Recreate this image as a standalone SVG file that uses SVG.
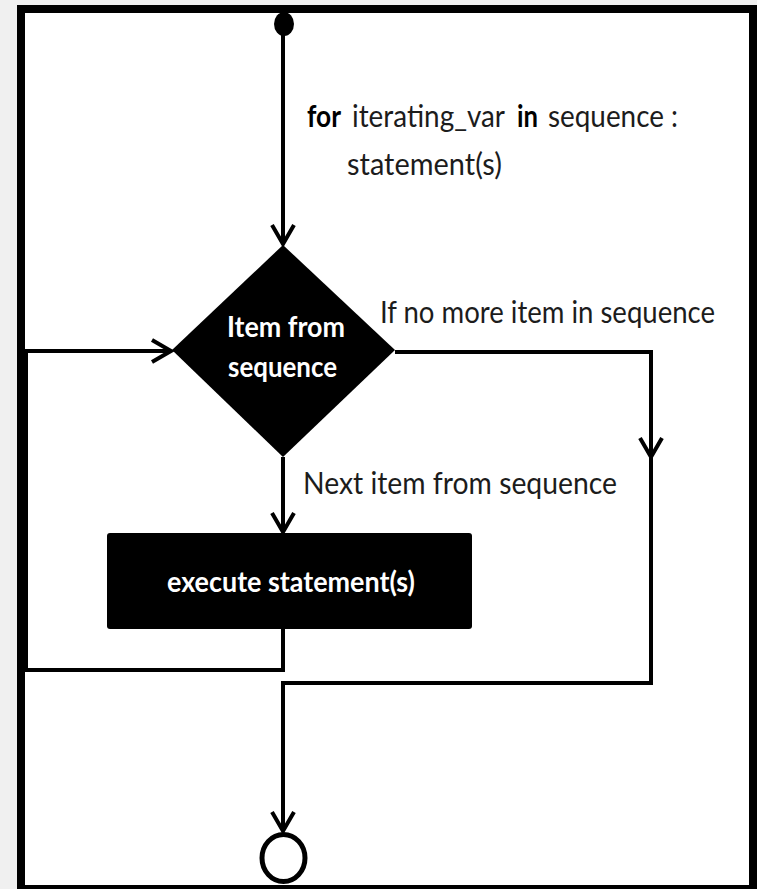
<svg xmlns="http://www.w3.org/2000/svg" width="757" height="889" viewBox="0 0 757 889">
  <style>
    .lbl { font-family: Lato, "Open Sans", "Liberation Sans", sans-serif; font-size: 30px; fill: #1c1c1c; }
    .inv { font-family: Lato, "Open Sans", "Liberation Sans", sans-serif; font-size: 29px; font-weight: bold; fill: #fff; }
    .b { font-weight: bold; fill: #000; }
    .wire { fill: none; stroke: #000; stroke-width: 4; stroke-linejoin: miter; }
  </style>
  <defs>
    <marker id="vee" markerUnits="userSpaceOnUse" markerWidth="30" markerHeight="30" viewBox="-24 -15 30 30" refX="0" refY="0" orient="auto" overflow="visible">
      <path d="M-19,-11 L0,0 L-19,11" fill="none" stroke="#000" stroke-width="4"/>
    </marker>
  </defs>

  <!-- page background and frame -->
  <rect x="0" y="0" width="757" height="889" fill="#f0f0f0"/>
  <rect x="21" y="9" width="732" height="880" fill="#fff" stroke="#000" stroke-width="8"/>

  <!-- connectors -->
  <g id="connectors">
    <path class="wire" d="M283,34 V244" marker-end="url(#vee)"/>
    <path class="wire" d="M283,457 V532" marker-end="url(#vee)"/>
    <path class="wire" d="M283,629 V670 H26 V351 H171" marker-end="url(#vee)"/>
    <path class="wire" d="M395,352 H651 V457" marker-end="url(#vee)"/>
    <path class="wire" d="M651,455 V683 H283 V831" marker-end="url(#vee)"/>
  </g>

  <!-- loop header and edge labels -->
  <g id="labels">
    <text class="lbl b" x="307" y="127" textLength="34" lengthAdjust="spacingAndGlyphs">for</text>
    <text class="lbl" x="352" y="127" textLength="153" lengthAdjust="spacingAndGlyphs">iterating_var</text>
    <text class="lbl b" x="517" y="127" textLength="21" lengthAdjust="spacingAndGlyphs">in</text>
    <text class="lbl" x="548" y="127" textLength="130" lengthAdjust="spacingAndGlyphs">sequence :</text>
    <text class="lbl" x="347" y="175" textLength="155" lengthAdjust="spacingAndGlyphs">statement(s)</text>
    <text class="lbl" x="380" y="323" textLength="335" lengthAdjust="spacingAndGlyphs">If no more item in sequence</text>
    <text class="lbl" x="303" y="494" textLength="314" lengthAdjust="spacingAndGlyphs">Next item from sequence</text>
  </g>

  <!-- start node -->
  <g id="start">
    <ellipse cx="284" cy="24" rx="10" ry="12" fill="#000"/>
  </g>

  <!-- decision node -->
  <g id="decision">
    <polygon points="283,245 395,350 283,457 172,350" fill="#000"/>
    <text class="inv" x="227" y="337" textLength="118" lengthAdjust="spacingAndGlyphs">Item from</text>
    <text class="inv" x="228" y="377" textLength="109" lengthAdjust="spacingAndGlyphs">sequence</text>
  </g>

  <!-- process node -->
  <g id="process">
    <rect x="107" y="533" width="365" height="96" rx="3" fill="#000"/>
    <text class="inv" x="167" y="592" textLength="248" lengthAdjust="spacingAndGlyphs">execute statement(s)</text>
  </g>

  <!-- end node -->
  <g id="end">
    <ellipse cx="283.5" cy="858" rx="21.5" ry="23.5" fill="#fff" stroke="#000" stroke-width="5"/>
  </g>
</svg>
